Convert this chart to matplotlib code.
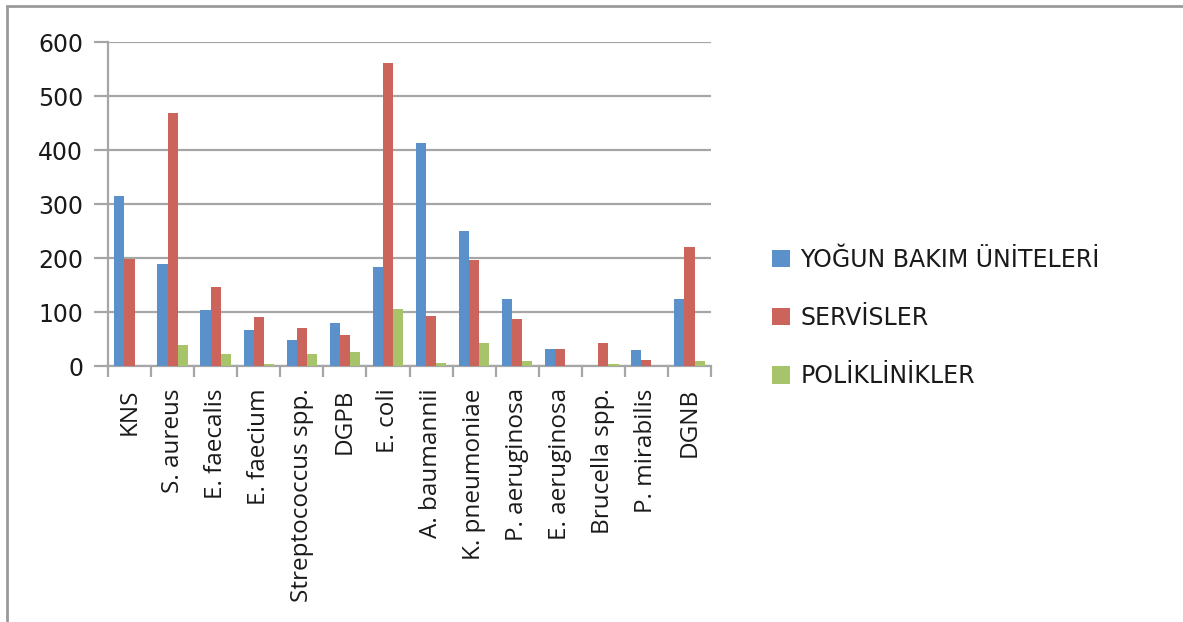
import numpy as np
import matplotlib.pyplot as plt
from matplotlib.patches import Rectangle

plt.rcParams['font.family'] = ['Open Sans', 'DejaVu Sans']

# veriler
turler = ["KNS", "S. aureus", "E. faecalis", "E. faecium", "Streptococcus spp.",
          "DGPB", "E. coli", "A. baumannii", "K. pneumoniae", "P. aeruginosa",
          "E. aeruginosa", "Brucella spp.", "P. mirabilis", "DGNB"]
yogun_bakim = [314, 189, 103, 67, 48, 80, 183, 413, 250, 125, 32, 0, 29, 125]
servisler = [198, 468, 147, 90, 70, 58, 561, 93, 197, 87, 32, 42, 12, 221]
poliklinikler = [0, 39, 23, 4, 23, 26, 105, 6, 42, 9, 0, 4, 0, 9]
seriler = ["YOĞUN BAKIM ÜNİTELERİ", "SERVİSLER", "POLİKLİNİKLER"]
renkler = ["#5B91CB", "#CB655B", "#A8C46A"]

W, H = 1183, 622
fig = plt.figure(figsize=(W / 100, H / 100), dpi=100)
ax = fig.add_axes([108 / W, 1 - 366 / H, (711 - 108) / W, (366 - 42) / H])

# cerceve (sadece sol ve ust gorunur)
fig.patches.append(Rectangle((7 / W, -0.1), 1.2, 1 - 6 / H + 0.1,
                             transform=fig.transFigure, fill=False,
                             edgecolor="#9a9a9a", linewidth=2))

x = np.arange(len(turler))
w = 0.235
for i, (vals, ad) in enumerate(zip([yogun_bakim, servisler, poliklinikler], seriler)):
    ax.bar(x + (i - 1) * w, vals, w, color=renkler[i], label=ad, zorder=3)

ax.set_xlim(-0.5, len(turler) - 0.5)
ax.set_ylim(0, 600)
ax.set_yticks(range(0, 601, 100))
ax.grid(axis="y", color="#a6a6a6", linewidth=1.6, zorder=0)
ax.set_axisbelow(True)
for s in ["top", "right"]:
    ax.spines[s].set_visible(False)
for s in ["left", "bottom"]:
    ax.spines[s].set_color("#a6a6a6")
    ax.spines[s].set_linewidth(1.6)

ax.set_xticks(x)
ax.set_xticklabels(turler, rotation=90, fontsize=17.5, color="#1a1a1a")
ax.tick_params(axis="x", length=0, pad=16)
ax.set_xticks(np.arange(-0.5, len(turler)), minor=True)
ax.tick_params(axis="x", which="minor", length=8, width=1.6, color="#a6a6a6", direction="out")
ax.tick_params(axis="y", length=10, width=1.6, color="#a6a6a6", pad=8)
for t in ax.get_yticklabels():
    t.set_family("DejaVu Sans")
    t.set_fontsize(17)
    t.set_color("#1a1a1a")

leg = fig.legend(loc="center left", bbox_to_anchor=(751 / W, 1 - 318 / H),
                 frameon=False, prop={"family": "DejaVu Sans", "size": 17},
                 handlelength=0.75, handleheight=0.75,
                 handletextpad=0.45, labelspacing=1.45)
for t in leg.get_texts():
    t.set_color("#1a1a1a")

fig.savefig("out.png", dpi=100)
